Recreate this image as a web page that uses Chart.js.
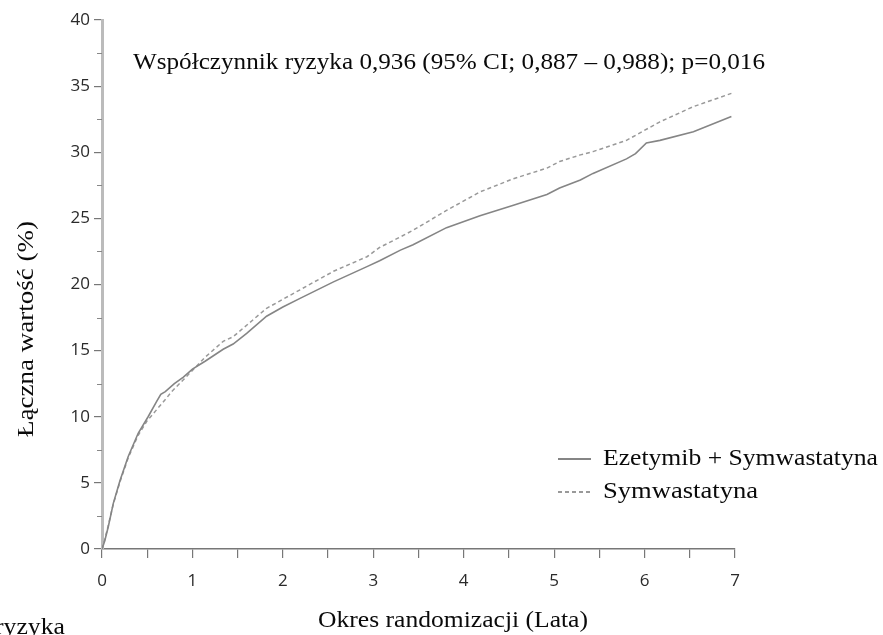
<!DOCTYPE html>
<html>
<head>
<meta charset="utf-8">
<script src="https://cdn.jsdelivr.net/npm/chart.js@4.4.1/dist/chart.umd.min.js"></script>
<style>
  html, body { margin: 0; padding: 0; background: #fff; }
  #wrap { width: 883px; height: 635px; position: relative; }
</style>
</head>
<body>
<div id="wrap"><canvas id="chart"></canvas></div>
<script>
'use strict';

// ── データ ────────────────────────────────────────────────
const ezYears = [0, 0.03, 0.07, 0.125, 0.2, 0.29, 0.4, 0.51, 0.6, 0.65, 0.7, 0.8, 0.9, 1.0, 1.14, 1.34, 1.45, 1.6, 1.82, 2.0, 2.19, 2.56, 2.93, 3.07, 3.3, 3.44, 3.81, 4.18, 4.55, 4.92, 5.06, 5.29, 5.43, 5.8, 5.9, 6.02, 6.17, 6.54, 6.96];
const ezValues = [0, 0.6, 1.7, 3.45, 5.2, 7.0, 8.75, 10.0, 11.1, 11.7, 11.9, 12.5, 13.0, 13.6, 14.2, 15.1, 15.5, 16.3, 17.6, 18.3, 18.95, 20.2, 21.35, 21.8, 22.6, 23.0, 24.3, 25.2, 26.0, 26.8, 27.3, 27.9, 28.4, 29.5, 29.9, 30.7, 30.9, 31.55, 32.7];

const symYears = [0, 0.03, 0.07, 0.125, 0.2, 0.29, 0.4, 0.5, 0.6, 0.7, 0.77, 0.9, 1.0, 1.14, 1.34, 1.45, 1.82, 2.19, 2.56, 2.93, 3.07, 3.3, 3.44, 3.81, 4.18, 4.55, 4.92, 5.06, 5.29, 5.43, 5.8, 6.17, 6.54, 6.96];
const symValues = [0, 0.7, 1.8, 3.4, 5.1, 6.9, 8.6, 9.7, 10.5, 11.3, 11.9, 12.8, 13.5, 14.5, 15.7, 16.05, 18.2, 19.6, 21.0, 22.1, 22.8, 23.6, 24.1, 25.6, 27.0, 28.0, 28.8, 29.3, 29.8, 30.05, 30.9, 32.3, 33.45, 34.45];

const seriesLabels = ['Ezetymib + Symwastatyna', 'Symwastatyna'];
const xTickLabels = [0, 1, 2, 3, 4, 5, 6, 7];
const yTickLabels = [0, 5, 10, 15, 20, 25, 30, 35, 40];
const yMinorTicks = [2.5, 7.5, 12.5, 17.5, 22.5, 27.5, 32.5, 37.5];

const headerText = 'Współczynnik ryzyka 0,936 (95% CI; 0,887 – 0,988); p=0,016';
const xTitle = 'Okres randomizacji (Lata)';
const yTitle = 'Łączna wartość (%)';
const cutText = 'ryzyka';

const SERIF = '"Liberation Serif", "Times New Roman", serif';
const SANS = '"Open Sans", "DejaVu Sans", sans-serif';

const toPoints = (xs, ys) => xs.map((x, i) => ({ x, y: ys[i] }));

// 横幅に合わせて文字を描く（スキャン画像の書体幅に寄せる）
function fitText(ctx, text, x, y, size, width) {
  ctx.font = size + 'px ' + SERIF;
  const w = ctx.measureText(text).width;
  ctx.save();
  ctx.translate(x, y);
  ctx.scale(width / w, 1);
  ctx.textAlign = 'left';
  ctx.fillText(text, 0, 0);
  ctx.restore();
}

// ── 注記・凡例・副目盛 ────────────────────────────────────
const decor = {
  id: 'decor',
  afterDraw(chart) {
    const { ctx, chartArea: a, scales } = chart;
    const ys = scales.y;
    ctx.save();

    // 副目盛 (y)
    ctx.strokeStyle = '#888';
    ctx.lineWidth = 1;
    yMinorTicks.forEach(v => {
      const p = Math.round(ys.getPixelForValue(v)) + 0.5;
      ctx.beginPath();
      ctx.moveTo(a.left - 5, p);
      ctx.lineTo(a.left, p);
      ctx.stroke();
    });

    ctx.fillStyle = '#0a0a0a';
    ctx.textBaseline = 'middle';

    // 見出し
    fitText(ctx, headerText, 133, 63, 24, 632);

    // 軸タイトル
    fitText(ctx, xTitle, 318, 621, 24, 270);
    ctx.save();
    ctx.translate(27, 437);
    ctx.rotate(-Math.PI / 2);
    fitText(ctx, yTitle, 0, 0, 24, 216);
    ctx.restore();

    // 左下の切れた文字
    fitText(ctx, cutText, -5, 628, 24, 70);

    // 凡例
    const rows = [459, 492];
    const widths = [275, 155];
    chart.data.datasets.forEach((ds, i) => {
      const y = rows[i];
      ctx.strokeStyle = ds.borderColor;
      ctx.lineWidth = 1.8;
      ctx.setLineDash(ds.borderDash || []);
      ctx.beginPath();
      ctx.moveTo(558, y);
      ctx.lineTo(591, y);
      ctx.stroke();
      ctx.setLineDash([]);
      ctx.fillStyle = '#0a0a0a';
      fitText(ctx, ds.label, 603, y, 24, widths[i]);
    });

    ctx.restore();
  }
};

new Chart(document.getElementById('chart').getContext('2d'), {
  type: 'line',
  data: {
    datasets: [
      {
        label: seriesLabels[0],
        data: toPoints(ezYears, ezValues),
        borderColor: '#858585',
        borderWidth: 1.6,
        pointRadius: 0,
        tension: 0,
        fill: false,
      },
      {
        label: seriesLabels[1],
        data: toPoints(symYears, symValues),
        borderColor: '#999',
        borderWidth: 1.5,
        borderDash: [4, 3],
        pointRadius: 0,
        tension: 0,
        fill: false,
      },
    ],
  },
  options: {
    responsive: true,
    maintainAspectRatio: false,
    animation: false,
    layout: { padding: { left: 0, top: 20, right: 148, bottom: 0 } },
    plugins: {
      legend: { display: false },
      tooltip: { enabled: false },
    },
    scales: {
      x: {
        type: 'linear',
        min: 0,
        max: 7,
        afterFit: s => { s.height = 86; },
        border: { color: '#777', width: 1.5 },
        grid: { drawOnChartArea: false, tickLength: 9, color: '#777', lineWidth: 1.2 },
        ticks: {
          stepSize: 0.5,
          padding: 13,
          color: '#2a2a2a',
          font: { family: SANS, size: 17 },
          maxRotation: 0,
          autoSkip: false,
          callback: v => xTickLabels.includes(v) ? String(v) : '',
        },
      },
      y: {
        min: 0,
        max: 40,
        afterFit: s => { s.width = 102; },
        border: { color: '#bbb', width: 3 },
        grid: { drawOnChartArea: false, tickLength: 8, color: '#777', lineWidth: 1.2 },
        ticks: {
          stepSize: 5,
          padding: 4,
          color: '#2a2a2a',
          font: { family: SANS, size: 17 },
          callback: v => yTickLabels.includes(v) ? String(v) : '',
        },
      },
    },
  },
  plugins: [decor],
});
</script>
</body>
</html>
